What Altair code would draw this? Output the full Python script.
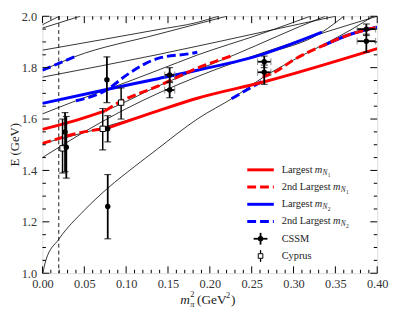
import altair as alt
import pandas as pd

# ---------------- data ----------------
# thin black non-interacting levels: x = m_pi^2 (GeV^2), E (GeV)
thin_x = [
    [0.0005, 0.004, 0.0195, 0.05, 0.078, 0.11, 0.136, 0.185, 0.228, 0.265, 0.30, 0.336, 0.37, 0.395],
    [0.0, 0.05, 0.10, 0.138, 0.185, 0.265, 0.34, 0.40],
    [0.0, 0.06, 0.138, 0.185, 0.265, 0.40],
    [0.0, 0.075, 0.138, 0.228, 0.334, 0.338],
    [0.0, 0.04, 0.078, 0.138, 0.185, 0.26, 0.32],
    [0.0, 0.078, 0.138, 0.185, 0.263, 0.334, 0.36],
    [0.0, 0.138, 0.279, 0.35],
    [0.0, 0.038, 0.138, 0.22],
    [0.0, 0.138, 0.185, 0.21],
    [0.0, 0.045],
    [0.0, 0.02],
]
thin_E = [
    [1.0, 1.05, 1.132, 1.245, 1.331, 1.415, 1.48, 1.60, 1.683, 1.765, 1.83, 1.89, 1.95, 2.0],
    [1.45, 1.55, 1.64, 1.70, 1.765, 1.86, 1.94, 2.0],
    [1.505, 1.556, 1.632, 1.681, 1.745, 1.874],
    [1.56, 1.632, 1.728, 1.848, 1.995, 2.0],
    [1.62, 1.671, 1.716, 1.79, 1.849, 1.93, 2.0],
    [1.661, 1.716, 1.757, 1.79, 1.852, 1.938, 2.0],
    [1.763, 1.851, 1.95, 2.0],
    [1.79, 1.842, 1.93, 2.0],
    [1.868, 1.948, 1.976, 2.0],
    [1.954, 2.0],
    [1.967, 2.0],
]

# coloured eigenvalue tracks
track_series = [
    "Largest mN1", "Largest mN1",
    "2nd Largest mN1", "2nd Largest mN1", "2nd Largest mN1",
    "Largest mN2", "Largest mN2",
    "2nd Largest mN2", "2nd Largest mN2", "2nd Largest mN2",
]
track_x = [
    [0.0, 0.04, 0.075],
    [0.075, 0.138, 0.185, 0.265, 0.40],
    [0.0, 0.06, 0.075],
    [0.075, 0.091, 0.138, 0.185, 0.228],
    [0.263, 0.279, 0.30, 0.336, 0.369, 0.40],
    [0.0, 0.078, 0.138, 0.185, 0.263, 0.30, 0.334],
    [0.336, 0.369, 0.40],
    [0.0, 0.038],
    [0.04, 0.078, 0.10, 0.138, 0.177, 0.185],
    [0.226, 0.245, 0.263],
]
track_E = [
    [1.56, 1.595, 1.632],
    [1.562, 1.632, 1.681, 1.745, 1.874],
    [1.505, 1.556, 1.562],
    [1.632, 1.664, 1.728, 1.798, 1.848],
    [1.763, 1.785, 1.83, 1.887, 1.931, 1.957],
    [1.661, 1.716, 1.757, 1.79, 1.852, 1.895, 1.938],
    [1.887, 1.931, 1.957],
    [1.79, 1.842],
    [1.671, 1.716, 1.77, 1.836, 1.855, 1.86],
    [1.679, 1.715, 1.748],
]

# lattice points
cssm_x = [0.027, 0.0285, 0.077, 0.078, 0.078, 0.152, 0.152, 0.265, 0.265, 0.387, 0.387]
cssm_E = [1.55, 1.49, 1.753, 1.562, 1.26, 1.772, 1.713, 1.823, 1.782, 1.95, 1.903]
cssm_lo = [1.395, 1.37, 1.664, 1.511, 1.134, 1.745, 1.683, 1.80, 1.735, 1.925, 1.86]
cssm_hi = [1.625, 1.61, 1.842, 1.613, 1.384, 1.80, 1.742, 1.845, 1.81, 1.97, 1.93]
cssm_xerr = [0.0, 0.0, 0.0, 0.0, 0.0, 0.006, 0.006, 0.008, 0.008, 0.011, 0.011]

cyprus_x = [0.024, 0.072, 0.094]
cyprus_E = [1.486, 1.562, 1.664]
cyprus_lo = [1.39, 1.48, 1.60]
cyprus_hi = [1.60, 1.641, 1.721]

phys_mpi2 = [0.0195]

x_major = [0.0, 0.05, 0.10, 0.15, 0.20, 0.25, 0.30, 0.35, 0.40]
x_minor = [round(0.01 * i, 2) for i in range(41) if i % 5 != 0]
y_major = [1.0, 1.2, 1.4, 1.6, 1.8, 2.0]
y_minor = [round(1.0 + 0.05 * i, 2) for i in range(21) if i % 4 != 0]

legend_words = ["Largest", "2nd Largest", "Largest", "2nd Largest", "CSSM", "Cyprus"]
legend_sub = ["1", "1", "2", "2"]
y_title = "E (GeV)"

# ---------------- build ----------------
W, H = 340, 261
FONT = "Liberation Serif"
TXT = "#222"
RED, BLUE = "#ff0000", "#0000ff"

xs = alt.Scale(domain=[0, 0.4], nice=False, zero=False)
ys = alt.Scale(domain=[1.0, 2.0], nice=False, zero=False)
XAX = alt.Axis(values=x_major, format=".2f", ticks=False, domain=False, grid=False, labelFlush=False,
               labelFont=FONT, labelFontSize=12.5, labelColor="#333", labelPadding=4)
YAX = alt.Axis(values=y_major, format=".1f", ticks=False, domain=False, grid=False, labelFlush=False,
               labelFont=FONT, labelFontSize=12.5, labelColor="#333", labelPadding=6)


def XE(f):
    return alt.X(f, scale=xs, axis=XAX, title=None)


def YE(f):
    return alt.Y(f, scale=ys, axis=YAX, title=None)


rows = []
for i, (xx, ee) in enumerate(zip(thin_x, thin_E)):
    for k, (a, b) in enumerate(zip(xx, ee)):
        rows.append({"id": i, "k": k, "x": a, "E": b})
thin_df = pd.DataFrame(rows)

rows = []
for i, (s, xx, ee) in enumerate(zip(track_series, track_x, track_E)):
    for k, (a, b) in enumerate(zip(xx, ee)):
        rows.append({"id": i, "k": k, "series": s, "x": a, "E": b})
trk_df = pd.DataFrame(rows)

thin = alt.Chart(thin_df).mark_line(color="black", strokeWidth=0.8, interpolate="monotone", clip=True).encode(
    x=XE("x:Q"), y=YE("E:Q"), detail="id:N", order="k:Q")

phys = alt.Chart(pd.DataFrame({"x": phys_mpi2})).mark_rule(
    color="black", strokeWidth=0.9, strokeDash=[4, 3]).encode(x=XE("x:Q"))


def track(series, color, dash):
    d = trk_df[trk_df.series == series]
    kw = {"strokeDash": [9, 4]} if dash else {}
    return alt.Chart(d).mark_line(color=color, strokeWidth=3, interpolate="monotone", clip=True, **kw).encode(
        x=XE("x:Q"), y=YE("E:Q"), detail="id:N", order="k:Q")


tr = [track("Largest mN2", BLUE, False), track("2nd Largest mN2", BLUE, True),
      track("Largest mN1", RED, False), track("2nd Largest mN1", RED, True)]

cssm_df = pd.DataFrame({"x": cssm_x, "E": cssm_E, "lo": cssm_lo, "hi": cssm_hi,
                        "xl": [a - b for a, b in zip(cssm_x, cssm_xerr)],
                        "xh": [a + b for a, b in zip(cssm_x, cssm_xerr)]})
cssm_xe = cssm_df[cssm_df.xh > cssm_df.xl]
cyp_df = pd.DataFrame({"x": cyprus_x, "E": cyprus_E, "lo": cyprus_lo, "hi": cyprus_hi})


def vbars(df, w):
    bar = alt.Chart(df).mark_rule(color="black", strokeWidth=w).encode(x=XE("x:Q"), y=YE("lo:Q"), y2="hi:Q")
    cl = alt.Chart(df).mark_tick(color="black", orient="horizontal", size=7, thickness=1.2).encode(
        x=XE("x:Q"), y=YE("lo:Q"))
    ch = alt.Chart(df).mark_tick(color="black", orient="horizontal", size=7, thickness=1.2).encode(
        x=XE("x:Q"), y=YE("hi:Q"))
    return [bar, cl, ch]


cssm_layers = vbars(cssm_df, 1.8) + [
    alt.Chart(cssm_xe).mark_rule(color="black", strokeWidth=1.8).encode(x=XE("xl:Q"), x2="xh:Q", y=YE("E:Q")),
    alt.Chart(cssm_xe).mark_tick(color="#777", orient="vertical", size=7, thickness=1.2).encode(
        x=XE("xl:Q"), y=YE("E:Q")),
    alt.Chart(cssm_xe).mark_tick(color="#777", orient="vertical", size=7, thickness=1.2).encode(
        x=XE("xh:Q"), y=YE("E:Q")),
    alt.Chart(cssm_df).mark_point(shape="circle", filled=True, color="black", size=30, opacity=1).encode(
        x=XE("x:Q"), y=YE("E:Q")),
]
cyp_layers = vbars(cyp_df, 1.5) + [
    alt.Chart(cyp_df).mark_point(shape="square", filled=True, fill="white", stroke="black",
                                 strokeWidth=1, size=30, opacity=1).encode(x=XE("x:Q"), y=YE("E:Q")),
]


# frame ticks (inward)
def ticks(vals, axis, length):
    df = pd.DataFrame({"v": vals})
    if axis == "x":
        a = alt.Chart(df).mark_rule(color="black", strokeWidth=1).encode(
            x=XE("v:Q"), y=alt.value(H), y2=alt.value(H - length))
        b = alt.Chart(df).mark_rule(color="black", strokeWidth=1).encode(
            x=XE("v:Q"), y=alt.value(0), y2=alt.value(length))
    else:
        a = alt.Chart(df).mark_rule(color="black", strokeWidth=1).encode(
            y=YE("v:Q"), x=alt.value(0), x2=alt.value(length))
        b = alt.Chart(df).mark_rule(color="black", strokeWidth=1).encode(
            y=YE("v:Q"), x=alt.value(W), x2=alt.value(W - length))
    return [a, b]


tick_layers = ticks(x_major, "x", 7) + ticks(x_minor, "x", 3.5) + ticks(y_major, "y", 7) + ticks(y_minor, "y", 3.5)

one = pd.DataFrame({"a": [0]})


def txt(t, x, y, size, italic=False, align="left", baseline="middle", angle=0):
    kw = {"fontStyle": "italic"} if italic else {}
    if angle:
        kw["angle"] = angle
    return alt.Chart(one).mark_text(align=align, baseline=baseline, font=FONT, fontSize=size,
                                    color=TXT, text=t, **kw).encode(x=alt.value(x), y=alt.value(y))


# y axis title
yt = [txt(y_title, -28, H / 2, 13, align="center", angle=270)]

# legend (inside plot, lower right)
LX0, LX1, TX = 208, 235, 243
row_y = [156, 173.5, 191, 208.5, 226, 243.5]
FS = 10.5
m_off = [33.5, 52, 33.5, 52]
leg = []
leg_styles = [(RED, False), (RED, True), (BLUE, False), (BLUE, True)]
for i, (c, dsh) in enumerate(leg_styles):
    kw = {"strokeDash": [9, 4]} if dsh else {}
    leg.append(alt.Chart(one).mark_rule(color=c, strokeWidth=3, **kw).encode(
        x=alt.value(LX0), x2=alt.value(LX1), y=alt.value(row_y[i])))
for i, w in enumerate(legend_words):
    leg.append(txt(w, TX, row_y[i], FS))
for i in range(4):
    mx = TX + m_off[i]
    leg.append(txt("m", mx, row_y[i], FS, italic=True))
    leg.append(txt("N", mx + 8, row_y[i] + 3, 7.5, italic=True))
    leg.append(txt(legend_sub[i], mx + 13.2, row_y[i] + 5, 5.5))
# CSSM symbol
cx = (LX0 + LX1) / 2
leg.append(alt.Chart(one).mark_rule(color="black", strokeWidth=1.8).encode(
    x=alt.value(cx), y=alt.value(row_y[4] - 6), y2=alt.value(row_y[4] + 6)))
leg.append(alt.Chart(one).mark_rule(color="black", strokeWidth=1.8).encode(
    x=alt.value(cx - 7), x2=alt.value(cx + 7), y=alt.value(row_y[4])))
leg.append(alt.Chart(one).mark_point(shape="circle", filled=True, color="black", size=30, opacity=1).encode(
    x=alt.value(cx), y=alt.value(row_y[4])))
# Cyprus symbol
leg.append(alt.Chart(one).mark_rule(color="black", strokeWidth=1.3).encode(
    x=alt.value(cx), y=alt.value(row_y[5] - 6), y2=alt.value(row_y[5] + 6)))
leg.append(alt.Chart(one).mark_point(shape="square", filled=True, fill="white", stroke="black",
                                     strokeWidth=1, size=22, opacity=1).encode(
    x=alt.value(cx), y=alt.value(row_y[5])))

# x axis title  m_pi^2 (GeV^2)
XT0, XTY = 140, 292
xt = [
    txt("m", XT0, XTY, 13.5, italic=True, baseline="alphabetic"),
    txt("π", XT0 + 10, XTY + 3, 8.5, italic=True, baseline="alphabetic"),
    txt("2", XT0 + 10, XTY - 7, 8.5, baseline="alphabetic"),
    txt("(GeV", XT0 + 17, XTY, 13.5, baseline="alphabetic"),
    txt("2", XT0 + 46.5, XTY - 6, 8.5, baseline="alphabetic"),
    txt(")", XT0 + 51.5, XTY, 13.5, baseline="alphabetic"),
]

chart = alt.layer(
    thin, phys, *tr, *cyp_layers, *cssm_layers, *tick_layers, *leg, *xt, *yt
).properties(
    width=W, height=H,
    autosize=alt.AutoSizeParams(type="none"),
    padding={"left": 35, "top": 6, "right": 14, "bottom": 37},
).configure_view(stroke="black", strokeWidth=1.2).configure(background="white")

chart.save("out.html", embed_options={"renderer": "svg", "actions": False})
